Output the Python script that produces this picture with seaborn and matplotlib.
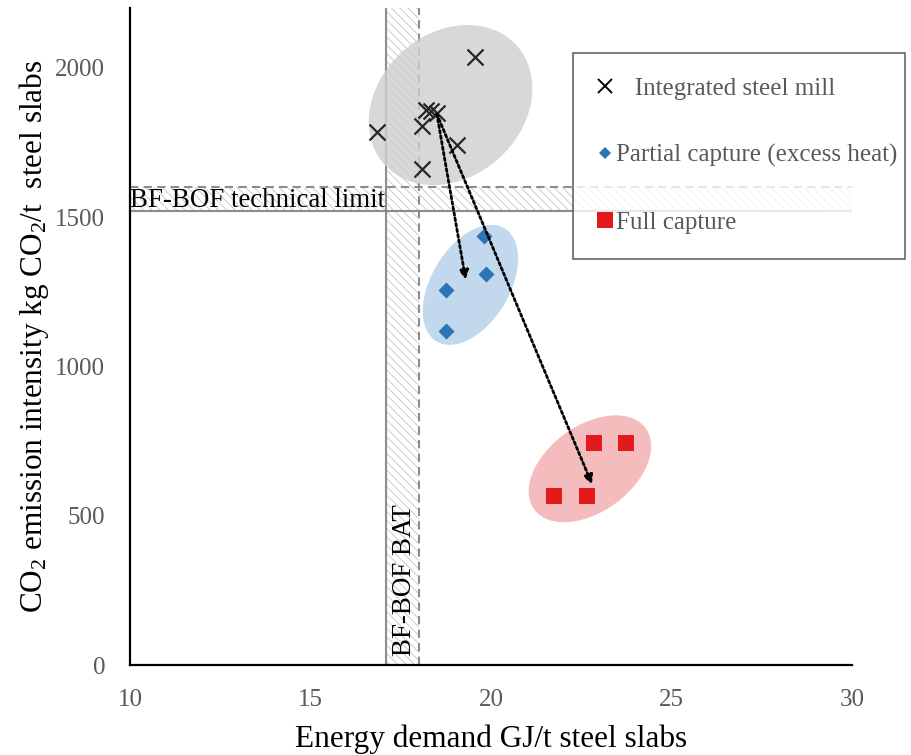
import numpy as np
import pandas as pd
import matplotlib
matplotlib.use("Agg")
import matplotlib.pyplot as plt
import matplotlib.transforms as mtransforms
from matplotlib.patches import Ellipse
from matplotlib.lines import Line2D
import seaborn as sns

# ---- data -------------------------------------------------------------
mill_energy = [16.85, 18.1, 18.1, 18.2, 18.35, 18.5, 19.05, 19.55]
mill_co2 = [1785, 1805, 1660, 1860, 1855, 1850, 1740, 2035]

partial_energy = [19.8, 19.85, 18.75, 18.75]
partial_co2 = [1435, 1310, 1255, 1120]

full_energy = [22.85, 23.75, 21.75, 22.65]
full_co2 = [745, 745, 565, 565]

bat_band = [17.1, 18.0]          # GJ/t
tech_limit_band = [1520, 1600]   # kg CO2/t

arrow_start = (18.5, 1845)
arrow_ends = [(19.3, 1290), (22.8, 605)]

x_ticks = [10, 15, 20, 25, 30]
y_ticks = [0, 500, 1000, 1500, 2000]

labels = ["Integrated steel mill", "Partial capture (excess heat)", "Full capture"]

# ---- style ------------------------------------------------------------
sns.set_style("white")
plt.rcParams["font.family"] = ["Liberation Serif", "DejaVu Serif"]
plt.rcParams["mathtext.fontset"] = "custom"
plt.rcParams["mathtext.rm"] = "Liberation Serif"
plt.rcParams["mathtext.it"] = "Liberation Serif:italic"
plt.rcParams["hatch.linewidth"] = 0.6

GREY_TXT = "#595959"
BLUE = "#2e75b6"
RED = "#e31a1c"

fig = plt.figure(figsize=(9.11, 7.55), dpi=100)
ax = fig.add_axes([130 / 911, 1 - 665 / 755, (852 - 130) / 911, (665 - 8) / 755])
ax.set_xlim(10, 30)
ax.set_ylim(0, 2200)

# ---- reference bands --------------------------------------------------
ax.axvspan(*bat_band, facecolor="white", edgecolor="#c4c4c4", hatch="\\\\\\\\",
           linewidth=0, zorder=0.5)
ax.axhspan(*tech_limit_band, facecolor="white", edgecolor="#c4c4c4", hatch="\\\\\\\\",
           linewidth=0, zorder=0.5)
ax.axvline(bat_band[0], color="#8c8c8c", lw=1.5, zorder=0.8)
ax.axvline(bat_band[1], color="#8c8c8c", lw=1.5, ls=(0, (4, 2.5)), zorder=0.8)
ax.axhline(tech_limit_band[0], color="#8c8c8c", lw=1.5, zorder=0.8)
ax.axhline(tech_limit_band[1], color="#8c8c8c", lw=1.5, ls=(0, (4, 2.5)), zorder=0.8)

ax.text(10.0, 1535, "BF-BOF technical limit", fontsize=19.4,
        color="black", ha="left", va="baseline", zorder=3)
ax.text(sum(bat_band) / 2 + 0.05, 30, "BF-BOF BAT", fontsize=19.4, rotation=90,
        color="black", ha="center", va="bottom", zorder=3)


# ---- cluster ellipses (sizes given in screen pixels) -----------------
def cluster_ellipse(center, semi_major_px, semi_minor_px, angle, color, alpha):
    tr = fig.dpi_scale_trans + mtransforms.ScaledTranslation(center[0], center[1], ax.transData)
    e = Ellipse((0, 0), 2 * semi_major_px / fig.dpi, 2 * semi_minor_px / fig.dpi,
                angle=angle, transform=tr, facecolor=color, edgecolor="none",
                alpha=alpha, zorder=1.5)
    ax.add_patch(e)


cluster_ellipse((18.88, 1875), 89, 72, 42, "#cfcfcf", 0.8)
cluster_ellipse((19.43, 1273), 66, 39, 59, "#b8d3ea", 0.85)
cluster_ellipse((22.74, 657), 69, 43, 36, "#f2abab", 0.8)

# ---- points -----------------------------------------------------------
df_mill = pd.DataFrame({"energy": mill_energy, "co2": mill_co2})
df_part = pd.DataFrame({"energy": partial_energy, "co2": partial_co2})
df_full = pd.DataFrame({"energy": full_energy, "co2": full_co2})

sns.scatterplot(data=df_mill, x="energy", y="co2", marker="x", s=11.5 ** 2,
                color="#262626", linewidth=1.6, ax=ax, zorder=4)
sns.scatterplot(data=df_part, x="energy", y="co2", marker="D", s=8.2 ** 2,
                color=BLUE, edgecolor=BLUE, linewidth=0, ax=ax, zorder=4)
sns.scatterplot(data=df_full, x="energy", y="co2", marker="s", s=11.5 ** 2,
                color=RED, edgecolor=RED, linewidth=0, ax=ax, zorder=4)

# ---- arrows -----------------------------------------------------------
for end in arrow_ends:
    ax.annotate("", xy=end, xytext=arrow_start,
                arrowprops=dict(arrowstyle="-|>", color="black", lw=2.0,
                                linestyle=(0, (1, 1)), mutation_scale=13,
                                shrinkA=0, shrinkB=0),
                zorder=5)

# ---- axes -------------------------------------------------------------
ax.set_xticks(x_ticks)
ax.set_yticks(y_ticks)
ax.tick_params(axis="both", length=0, labelsize=18, labelcolor=GREY_TXT)
ax.tick_params(axis="y", pad=18)
ax.tick_params(axis="x", pad=17)
for side in ["top", "right"]:
    ax.spines[side].set_visible(False)
for side in ["left", "bottom"]:
    ax.spines[side].set_color("black")
    ax.spines[side].set_linewidth(1.6)
    ax.spines[side].set_zorder(6)

ax.set_xlabel("Energy demand GJ/t steel slabs", fontsize=22.5, color="black", labelpad=10)
ax.set_ylabel(r"CO$_\mathrm{2}$ emission intensity kg CO$_\mathrm{2}$/t  steel slabs",
              fontsize=22.5, color="black", labelpad=3)

# ---- legend -----------------------------------------------------------
handles = [
    Line2D([], [], ls="none", marker="x", color="black", markersize=9.5, markeredgewidth=1.4),
    Line2D([], [], ls="none", marker="D", color=BLUE, markersize=6, markeredgewidth=0),
    Line2D([], [], ls="none", marker="s", color=RED, markersize=11.5, markeredgewidth=0),
]
leg_labels = ["   " + labels[0], labels[1], labels[2]]
leg = fig.legend(handles, leg_labels, loc="upper left",
                 bbox_to_anchor=(573 / 911, 0, (905 - 573) / 911, 1 - 53 / 755),
                 mode="expand", borderaxespad=0, fontsize=18, frameon=True,
                 fancybox=False, handlelength=0.62, handletextpad=0.13,
                 borderpad=0.98, labelspacing=1.77, labelcolor=GREY_TXT)
leg.get_frame().set_edgecolor("#404040")
leg.get_frame().set_linewidth(1.2)

fig.savefig("out.png", dpi=100)
